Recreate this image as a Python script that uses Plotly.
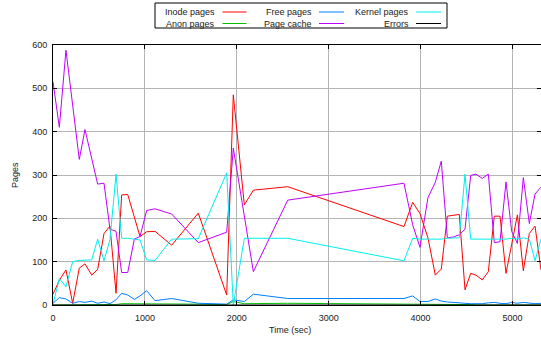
import plotly.graph_objects as go

time_sec = [0, 69, 141, 214, 286, 348, 421, 486, 555, 620,
            686, 747, 813, 885, 947, 1019, 1110, 1291, 1581, 1890,
            1962, 2082, 2180, 2554, 3819, 3914, 3993, 4080, 4160, 4225,
            4291, 4356, 4421, 4483, 4545, 4603, 4671, 4737, 4802, 4864,
            4929, 4991, 5053, 5118, 5183, 5245, 5310]

inode_pages = [25, 57, 81, 4, 85, 95, 69, 82, 165, 182,
               27, 254, 255, 205, 158, 169, 170, 138, 212, 23,
               485, 231, 265, 273, 181, 237, 211, 155, 69, 83,
               205, 207, 209, 35, 73, 69, 58, 77, 205, 205,
               73, 140, 208, 79, 165, 182, 81]

anon_pages = [0, 0, 0, 0, 0, 0, 0, 0, 0, 1,
              1, 3, 3, 2, 2, 2, 2, 2, 2, 1,
              8, 3, 3, 4, 2, 2, 2, 2, 1, 1,
              1, 1, 1, 1, 1, 0, 0, 0, 0, 0,
              0, 0, 0, 0, 0, 0, 0]

free_pages = [4, 17, 14, 4, 8, 6, 9, 4, 7, 3,
              12, 27, 23, 13, 21, 33, 10, 15, 4, 2,
              12, 8, 25, 15, 15, 21, 8, 8, 14, 9,
              7, 6, 5, 3, 3, 3, 3, 5, 6, 4,
              3, 6, 4, 6, 4, 3, 4]

page_cache = [515, 410, 588, 462, 336, 405, 339, 279, 281, 175,
              170, 75, 75, 152, 158, 218, 222, 210, 144, 168,
              362, 205, 77, 242, 281, 185, 133, 248, 283, 332,
              155, 157, 162, 175, 299, 302, 292, 302, 144, 146,
              284, 170, 142, 294, 188, 256, 272]

kernel_pages = [2, 61, 42, 100, 103, 103, 104, 152, 102, 151,
                302, 154, 154, 152, 150, 104, 103, 152, 153, 305,
                0, 154, 154, 154, 102, 154, 152, 152, 152, 152,
                154, 155, 155, 302, 152, 152, 152, 152, 152, 152,
                152, 154, 152, 155, 152, 102, 152]

errors = [0] * len(time_sec)

series_names = ["Inode pages", "Anon pages", "Free pages", "Page cache", "Kernel pages", "Errors"]
series_values = [inode_pages, anon_pages, free_pages, page_cache, kernel_pages, errors]
series_colors = ["#ff0000", "#00c000", "#0080ff", "#c000ff", "#00eeee", "#000000"]

x_ticks = [0, 1000, 2000, 3000, 4000, 5000]
y_ticks = [0, 100, 200, 300, 400, 500, 600]

W, H = 541, 340
L, R, T, B = 53, 0, 45, 35
PW, PH = W - L - R, H - T - B


def px(x):
    return (x - L) / PW


def py(y):
    return (H - B - y) / PH


FONT = "Liberation Sans, Arial, sans-serif"

fig = go.Figure()
for name, vals, col in zip(series_names, series_values, series_colors):
    fig.add_trace(go.Scatter(x=time_sec, y=vals, mode="lines", name=name,
                             line=dict(color=col, width=1), showlegend=False))

axis_common = dict(showline=True, linecolor="black", linewidth=1, mirror="ticks",
                   ticks="inside", ticklen=4, tickcolor="black", tickwidth=1,
                   showgrid=True, gridcolor="#b4b4b4", gridwidth=1, zeroline=False,
                   tickfont=dict(family=FONT, size=9, color="#222"))

fig.update_xaxes(range=[0, 5310], tickvals=x_ticks, ticklabelstandoff=4, **axis_common)
fig.update_yaxes(range=[0, 600], tickvals=y_ticks, ticklabelstandoff=3, **axis_common)

shapes = []
annotations = []
# legend box
shapes.append(dict(type="rect", xref="paper", yref="paper",
                   x0=px(155), x1=px(447), y0=py(3), y1=py(28),
                   line=dict(color="black", width=1), fillcolor="white"))
legend_cols = [(216.5, 222.5, 246.5), (314, 319, 344), (410.5, 416, 441)]
legend_rows = [12, 23.5]
for i, (name, col) in enumerate(zip(series_names, series_colors)):
    c, r = divmod(i, 2)
    tx, lx0, lx1 = legend_cols[c]
    yy = legend_rows[r]
    annotations.append(dict(x=px(tx), y=py(yy), xref="paper", yref="paper",
                            text=name, showarrow=False, xanchor="right", yanchor="middle",
                            font=dict(family=FONT, size=9, color="#222")))
    shapes.append(dict(type="line", xref="paper", yref="paper",
                       x0=px(lx0), x1=px(lx1), y0=py(yy), y1=py(yy),
                       line=dict(color=col, width=1)))

annotations.append(dict(x=px(15), y=py(175), xref="paper", yref="paper", text="Pages",
                        showarrow=False, textangle=-90, xanchor="center", yanchor="middle",
                        font=dict(family=FONT, size=9, color="#222")))
annotations.append(dict(x=px(290), y=py(330), xref="paper", yref="paper", text="Time (sec)",
                        showarrow=False, xanchor="center", yanchor="middle",
                        font=dict(family=FONT, size=9, color="#222")))

fig.update_layout(width=W, height=H, margin=dict(l=L, r=R, t=T, b=B),
                  plot_bgcolor="white", paper_bgcolor="white",
                  shapes=shapes, annotations=annotations, showlegend=False)

fig.write_html("out.html")
